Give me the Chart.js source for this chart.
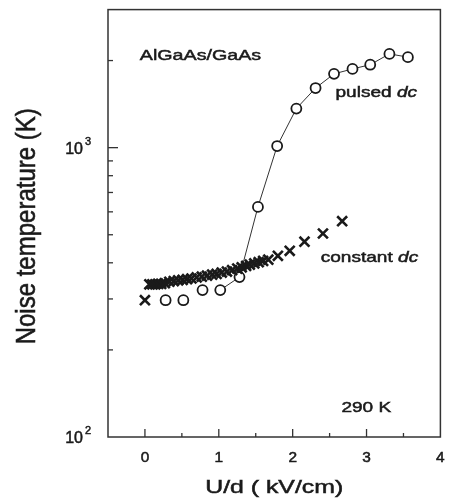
<!DOCTYPE html>
<html>
<head>
<meta charset="utf-8">
<script src="https://cdn.jsdelivr.net/npm/chart.js@4/dist/chart.umd.min.js"></script>
<style>
  html, body { margin: 0; padding: 0; background: #fff; }
</style>
</head>
<body>
<canvas id="chart" width="450" height="504"></canvas>
<script>
// pulsed dc (circles)
var pulsedX = [0.28, 0.52, 0.78, 1.02, 1.28, 1.53, 1.79, 2.05, 2.31, 2.56, 2.81, 3.05, 3.31, 3.56];
var pulsedT = [297, 297, 322, 322, 357, 624, 1013, 1365, 1607, 1799, 1871, 1935, 2109, 2055];

// constant dc (crosses)
var constX = [0, 0.06, 0.10, 0.14, 0.18, 0.22, 0.27, 0.33, 0.39, 0.45, 0.51, 0.57, 0.63, 0.70, 0.77, 0.84, 0.91, 0.97, 1.04, 1.11, 1.18, 1.25, 1.31, 1.37, 1.42, 1.48, 1.54, 1.60, 1.67, 1.80, 1.96, 2.16, 2.41, 2.67];
var constT = [297, 337, 337, 337, 338, 338, 340, 344, 346, 348, 349, 351, 353, 356, 358, 361, 364, 366, 370, 373, 377, 382, 386, 390, 394, 398, 402, 406, 410, 423, 440, 473, 505, 557];

var xTickValues = [-0.5, 0, 0.5, 1, 1.5, 2, 2.5, 3, 3.5, 4];
var xTickLabels = ['', '0', '', '1', '', '2', '', '3', '', '4'];
var yTickValues = [100, 200, 300, 400, 500, 600, 700, 800, 900, 1000, 2000, 3000];
var yLabelValues = [100, 1000];
var yLabelExp = ['2', '3'];

var ink = '#1a1a1a';

function toPoints(xs, ys) {
  return xs.map(function (x, i) { return { x: x, y: ys[i] }; });
}

// scanned figure text is wide and a bit heavy: stretch and add a thin outline
function wideText(ctx, txt, x, y, font, sx, align) {
  ctx.save();
  ctx.font = font;
  ctx.textAlign = align || 'left';
  ctx.textBaseline = 'alphabetic';
  ctx.translate(x, y);
  ctx.scale(sx, 1);
  ctx.lineWidth = 0.5;
  ctx.strokeStyle = ink;
  ctx.fillText(txt, 0, 0);
  ctx.strokeText(txt, 0, 0);
  var w = ctx.measureText(txt).width * sx;
  ctx.restore();
  return w;
}

var framePlugin = {
  id: 'frame',
  afterDraw: function (chart) {
    var ctx = chart.ctx, a = chart.chartArea;
    var xs = chart.scales.x, ys = chart.scales.y;
    ctx.save();
    ctx.strokeStyle = '#333';
    ctx.fillStyle = ink;
    ctx.lineWidth = 1.5;
    ctx.strokeRect(a.left, a.top, a.right - a.left, a.bottom - a.top);

    // inward ticks on the bottom axis
    ctx.lineWidth = 1.3;
    xs.ticks.forEach(function (t, i) {
      var px = xs.getPixelForValue(t.value);
      var major = xTickLabels[i] !== '';
      if (px > a.left + 1 && px < a.right - 1) {
        ctx.beginPath();
        ctx.moveTo(px, a.bottom);
        ctx.lineTo(px, a.bottom - (major ? 8 : 4));
        ctx.stroke();
      }
      if (major) {
        wideText(ctx, xTickLabels[i], px, a.bottom + 25, '14px "Liberation Sans", Arial, sans-serif', 1.1, 'center');
      }
    });

    // inward ticks on the left axis
    ctx.strokeStyle = '#333';
    ctx.lineWidth = 1.3;
    ys.ticks.forEach(function (t) {
      var py = ys.getPixelForValue(t.value);
      var major = yLabelValues.indexOf(t.value) >= 0;
      if (py < a.bottom - 1 && py > a.top + 1) {
        ctx.beginPath();
        ctx.moveTo(a.left, py);
        ctx.lineTo(a.left + (major ? 10 : 5), py);
        ctx.stroke();
      }
    });
    yLabelValues.forEach(function (v, i) {
      var py = ys.getPixelForValue(v);
      wideText(ctx, '10', a.left - 25, py + 6, '16px "Liberation Sans", Arial, sans-serif', 1.0, 'right');
      wideText(ctx, yLabelExp[i], a.left - 23, py - 3, '11px "Liberation Sans", Arial, sans-serif', 1.0, 'left');
    });

    // axis titles
    wideText(ctx, 'U/d ( kV/cm)', (a.left + a.right) / 2, 493, '18px "Liberation Sans", Arial, sans-serif', 1.38, 'center');
    ctx.save();
    ctx.translate(28, (a.top + a.bottom) / 2 + 3);
    ctx.scale(1.12, 1);
    ctx.rotate(-Math.PI / 2);
    ctx.font = '24px "Liberation Sans", Arial, sans-serif';
    ctx.textAlign = 'center';
    ctx.textBaseline = 'middle';
    ctx.lineWidth = 0.5;
    ctx.strokeStyle = ink;
    ctx.fillText('Noise temperature (K)', 0, 0);
    ctx.strokeText('Noise temperature (K)', 0, 0);
    ctx.restore();

    // annotations
    var f = '15px "Liberation Sans", Arial, sans-serif';
    var fi = 'italic 15px "Liberation Sans", Arial, sans-serif';
    var sx = 1.27;
    wideText(ctx, 'AlGaAs/GaAs', xs.getPixelForValue(-0.07), ys.getPixelForValue(2010), '15.5px "Liberation Sans", Arial, sans-serif', sx);
    var px = xs.getPixelForValue(2.58), py = ys.getPixelForValue(1493);
    var w = wideText(ctx, 'pulsed ', px, py, f, sx);
    wideText(ctx, 'dc', px + w, py, fi, sx);
    px = xs.getPixelForValue(2.38); py = ys.getPixelForValue(402);
    w = wideText(ctx, 'constant ', px, py, f, sx);
    wideText(ctx, 'dc', px + w, py, fi, sx);
    wideText(ctx, '290 K', xs.getPixelForValue(2.66), ys.getPixelForValue(122), f, sx);
    ctx.restore();
  }
};

new Chart(document.getElementById('chart'), {
  type: 'scatter',
  data: {
    datasets: [
      {
        label: 'constant dc',
        data: toPoints(constX, constT),
        showLine: false,
        pointStyle: 'crossRot',
        pointRadius: 7,
        pointBorderWidth: 2.6,
        borderColor: ink,
        backgroundColor: ink
      },
      {
        label: 'pulsed dc',
        data: toPoints(pulsedX, pulsedT),
        showLine: true,
        borderColor: '#333',
        borderWidth: 1,
        tension: 0,
        segment: {
          borderColor: function (c) { return c.p0DataIndex < 3 ? 'rgba(0,0,0,0)' : '#333'; }
        },
        pointStyle: 'circle',
        pointRadius: 5,
        pointBorderWidth: 1.8,
        pointBorderColor: ink,
        pointBackgroundColor: '#fff'
      }
    ]
  },
  options: {
    responsive: false,
    animation: false,
    devicePixelRatio: 1,
    layout: { padding: { top: 4, right: 6, left: 0, bottom: 0 } },
    plugins: { legend: { display: false }, tooltip: { enabled: false } },
    scales: {
      x: {
        type: 'linear',
        min: -0.5,
        max: 4,
        grid: { display: false },
        border: { display: false },
        ticks: { display: false },
        afterBuildTicks: function (s) { s.ticks = xTickValues.map(function (v) { return { value: v }; }); },
        afterFit: function (s) { s.height = 67; }
      },
      y: {
        type: 'logarithmic',
        min: 100,
        max: 3000,
        grid: { display: false },
        border: { display: false },
        ticks: { display: false },
        afterBuildTicks: function (s) { s.ticks = yTickValues.map(function (v) { return { value: v }; }); },
        afterFit: function (s) { s.width = 108; }
      }
    }
  },
  plugins: [framePlugin]
});
</script>
</body>
</html>
